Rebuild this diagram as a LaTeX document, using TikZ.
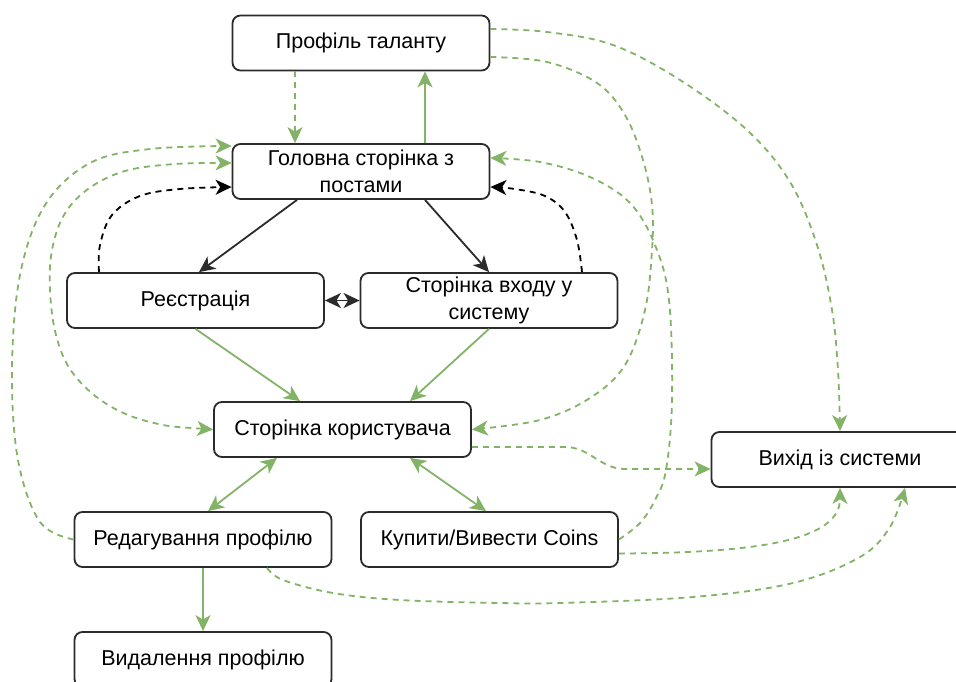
\documentclass[tikz,border=0pt]{standalone}
\usepackage{fontspec}
\setmainfont{Liberation Sans}
\usetikzlibrary{arrows.meta,calc}
\definecolor{lgreen}{HTML}{82B366}
\definecolor{edgegray}{HTML}{2B2B2B}

\begin{document}
\begin{tikzpicture}[x=1pt,y=-1pt,
  box/.style={draw=edgegray, line width=1.8pt, rounded corners=8pt,
    minimum width=257pt, minimum height=55pt, inner sep=0pt,
    align=center, font=\fontsize{21.5}{27}\selectfont},
  head/.tip={Stealth[length=16pt,width=15pt,inset=4.5pt]},
  arr/.style={-head},
  darr/.style={head-head},
  gline/.style={draw=lgreen, line width=1.8pt},
  gdash/.style={gline, dash pattern=on 6pt off 5pt},
  kline/.style={draw=edgegray, line width=1.8pt},
  kdash/.style={draw=black, line width=1.8pt, dash pattern=on 6pt off 5pt},
]
\useasboundingbox (0,0) rectangle (956,682);

% boxes
\node[box] (prof)  at (361,43)    {Профіль таланту};
\node[box] (main)  at (361,171.5) {Головна сторінка з\\постами};
\node[box] (reg)   at (195.5,300.5) {Реєстрація};
\node[box] (login) at (489,300.5) {Сторінка входу у\\систему};
\node[box] (user)  at (342.5,429.5) {Сторінка користувача};
\node[box] (exit)  at (840,459.5) {Вихід із системи};
\node[box] (edit)  at (203,539.5) {Редагування профілю};
\node[box] (buy)   at (489.5,539.5) {Купити/Вивести Coins};
\node[box] (del)   at (203,659.5) {Видалення профілю};

% attachment points on the box borders
\coordinate (mainA) at ($(main.west)+(0,-25.5)$);
\coordinate (mainB) at ($(main.west)+(0,-8.5)$);
\coordinate (mainC) at ($(main.west)+(0,15.5)$);
\coordinate (mainD) at ($(main.east)+(0,15.5)$);
\coordinate (mainE) at ($(main.east)+(0,-13.5)$);
\coordinate (regC)  at ($(reg.north)+(-96.5,0)$);
\coordinate (loginD) at ($(login.north)+(93,0)$);
\coordinate (profF) at ($(prof.east)+(0,14)$);
\coordinate (profG) at ($(prof.east)+(0,-14)$);
\coordinate (userH) at ($(user.east)+(0,17.5)$);
\coordinate (exitH) at ($(exit.west)+(0,9.5)$);
\coordinate (buyI)  at ($(buy.east)+(0,14)$);
\coordinate (editJ) at ($(edit.south)+(64,0)$);
\coordinate (exitJ) at ($(exit.south)+(65,0)$);

% straight connectors
\draw[gline, arr] ($(main.north)+(64,0)$) -- ($(prof.south)+(64,0)$);
\draw[gdash, arr] ($(prof.south)+(-66,0)$) -- ($(main.north)+(-66,0)$);
\draw[kline, arr] ($(main.south)+(-64,0)$) -- ($(reg.north)+(3.5,0)$);
\draw[kline, arr] ($(main.south)+(64,0)$) -- (login.north);
\draw[kline, darr] (reg.east) -- (login.west);
\draw[gline, arr] (reg.south) -- ($(user.north)+(-42.5,0)$);
\draw[gline, arr] (login.south) -- ($(user.north)+(67.5,0)$);
\draw[gline, darr] ($(user.south)+(-65.5,0)$) -- ($(edit.north)+(5,0)$);
\draw[gline, darr] ($(user.south)+(67.5,0)$) -- ($(buy.north)+(-3.5,0)$);
\draw[gline, arr] (edit.south) -- (del.north);

% curved connectors on the left
\draw[gdash, arr] plot[smooth, tension=0.6] coordinates
  {(edit.west) (40,522) (18,460) (12,370) (20,275) (45,205) (90,163) (150,149) (mainA)};
\draw[gdash, darr] plot[smooth, tension=0.6] coordinates
  {(user.west) (150,422) (105,403) (72,372) (56,335) (50,290) (52,250) (64,215) (88,189) (125,171) (175,164) (mainB)};
\draw[kdash, arr] plot[smooth, tension=0.6] coordinates
  {(regC) (100,245) (112,215) (140,196) (180,189) (mainC)};

% curved connectors on the right
\draw[kdash, arr] plot[smooth, tension=0.6] coordinates
  {(loginD) (577,240) (565,212) (545,196) (515,189) (mainD)};
\draw[gdash, arr] plot[smooth, tension=0.6] coordinates
  {(buy.east) (640,523) (655,500) (666,470) (672,400) (669,300) (655,245) (630,203) (590,177) (540,162) (mainE)};
\draw[gdash, arr] plot[smooth, tension=0.6] coordinates
  {(profF) (547,62) (597,83) (625,115) (643,160) (652,205) (652,250) (645,310) (625,365) (590,398) (540,420) (user.east)};
\draw[gdash, arr] plot[smooth, tension=0.6] coordinates
  {(profG) (547,32) (613,45) (680,80) (747,130) (790,182) (817,245) (832,310) (838,370) (exit.north)};
\draw[gdash, arr] (userH) -- (565,447) to[out=0,in=180] (625,469) -- (exitH);
\draw[gdash, arr] (buyI) .. controls (760,553) and (840,540) .. (exit.south);
\draw[gdash, arr] plot[smooth, tension=0.6] coordinates
  {(editJ) (283,580) (333,593) (400,600) (500,603) (560,603) (693,597) (793,583) (860,557) (890,527) (exitJ)};
\end{tikzpicture}
\end{document}
